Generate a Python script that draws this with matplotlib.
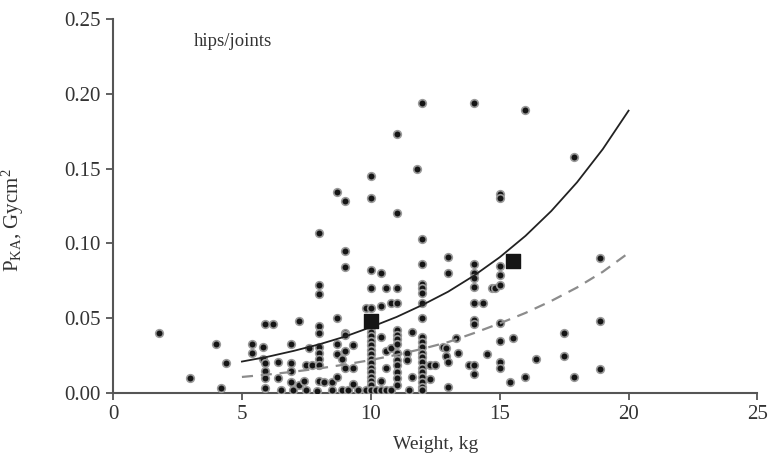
import matplotlib
matplotlib.use("Agg")
import matplotlib.pyplot as plt
import numpy as np

plt.rcParams['font.family'] = ['Liberation Serif', 'DejaVu Serif']
plt.rcParams['mathtext.fontset'] = 'custom'
plt.rcParams['mathtext.rm'] = 'Liberation Serif'
plt.rcParams['mathtext.it'] = 'Liberation Serif:italic'

# patient weight (kg) and PKA (Gy cm2)
weight = [
    1.8, 3.0, 4.0, 4.2, 4.4,
    5.4, 5.4, 5.8, 5.8, 5.9, 5.9, 5.9, 5.9, 5.9,
    6.2, 6.4, 6.4, 6.5, 6.9, 6.9, 6.9, 6.9, 7.0,
    7.2, 7.2, 7.4, 7.5, 7.5, 7.6, 7.7, 7.9,
    8.0, 8.0, 8.0, 8.0, 8.0, 8.0, 8.0, 8.0, 8.0, 8.0,
    8.2, 8.5, 8.5, 8.7, 8.7, 8.7, 8.7, 8.7, 8.9, 8.9,
    9.0, 9.0, 9.0, 9.0, 9.0, 9.0, 9.0, 9.1, 9.3, 9.3, 9.3, 9.5, 9.8, 9.8,
    10.0, 10.0, 10.0, 10.0, 10.0, 10.0, 10.0, 10.0, 10.0, 10.0, 10.0, 10.0,
    10.0, 10.0, 10.0, 10.0, 10.0, 10.0, 10.0, 10.0,
    10.2, 10.4, 10.4, 10.4, 10.4, 10.4, 10.6, 10.6, 10.6, 10.6,
    10.8, 10.8, 10.8,
    11.0, 11.0, 11.0, 11.0, 11.0, 11.0, 11.0, 11.0, 11.0, 11.0, 11.0, 11.0, 11.0, 11.0,
    11.4, 11.4, 11.5, 11.6, 11.6, 11.8,
    12.0, 12.0, 12.0, 12.0, 12.0, 12.0, 12.0, 12.0, 12.0, 12.0,
    12.0, 12.0, 12.0, 12.0, 12.0, 12.0, 12.0, 12.0, 12.0, 12.0,
    12.3, 12.3, 12.5, 12.8, 12.9, 12.9, 13.0, 13.0, 13.0, 13.0,
    13.3, 13.4, 13.8,
    14.0, 14.0, 14.0, 14.0, 14.0, 14.0, 14.0, 14.0, 14.0, 14.0,
    14.35, 14.5, 14.7, 14.8,
    15.0, 15.0, 15.0, 15.0, 15.0, 15.0, 15.0, 15.0, 15.0,
    15.4, 15.5, 16.0, 16.0, 16.4, 17.5, 17.5, 17.9, 17.9, 18.9, 18.9, 18.9,
]
pka = [
    0.040, 0.010, 0.033, 0.003, 0.020,
    0.033, 0.027, 0.031, 0.023, 0.046, 0.020, 0.015, 0.010, 0.003,
    0.046, 0.021, 0.010, 0.002, 0.033, 0.020, 0.015, 0.007, 0.002,
    0.048, 0.005, 0.008, 0.019, 0.002, 0.030, 0.019, 0.001,
    0.107, 0.072, 0.066, 0.045, 0.040, 0.031, 0.027, 0.023, 0.019, 0.008,
    0.007, 0.002, 0.007, 0.134, 0.050, 0.033, 0.026, 0.011, 0.023, 0.002,
    0.128, 0.095, 0.084, 0.040, 0.028, 0.017, 0.039, 0.002, 0.032, 0.017, 0.006, 0.002, 0.057, 0.002,
    0.145, 0.130, 0.082, 0.070, 0.057, 0.044, 0.041, 0.038, 0.035, 0.032, 0.029, 0.026,
    0.023, 0.020, 0.017, 0.014, 0.011, 0.008, 0.005, 0.002,
    0.002, 0.080, 0.058, 0.0375, 0.008, 0.002, 0.070, 0.028, 0.017, 0.002,
    0.060, 0.030, 0.002,
    0.173, 0.120, 0.070, 0.060, 0.042, 0.039, 0.036, 0.033, 0.027, 0.022, 0.019, 0.014, 0.010, 0.005,
    0.027, 0.022, 0.002, 0.041, 0.011, 0.150,
    0.194, 0.103, 0.086, 0.073, 0.070, 0.067, 0.060, 0.050, 0.0375, 0.034,
    0.031, 0.027, 0.024, 0.021, 0.017, 0.014, 0.011, 0.007, 0.004, 0.002,
    0.019, 0.009, 0.019, 0.031, 0.030, 0.025, 0.091, 0.080, 0.021, 0.004,
    0.037, 0.027, 0.019,
    0.194, 0.086, 0.080, 0.077, 0.071, 0.060, 0.049, 0.046, 0.019, 0.013,
    0.060, 0.026, 0.070, 0.070,
    0.133, 0.130, 0.085, 0.079, 0.072, 0.047, 0.035, 0.021, 0.017,
    0.007, 0.037, 0.189, 0.011, 0.023, 0.040, 0.025, 0.158, 0.011, 0.090, 0.048, 0.016,
]

# mean values (black squares)
mean_weight = [10.0, 15.5]
mean_pka = [0.048, 0.088]

# trend curves read at whole kg
curve_w = [5, 6, 7, 8, 9, 10, 11, 12, 13, 14, 15, 16, 17, 18, 19, 20]
upper_pka = [0.0210, 0.0242, 0.0281, 0.0325, 0.0377, 0.0440, 0.0508, 0.0588,
             0.0677, 0.0784, 0.0907, 0.1050, 0.1216, 0.1408, 0.1630, 0.1887]
lower_pka = [0.0107, 0.0123, 0.0142, 0.0164, 0.0190, 0.0220, 0.0255, 0.0295,
             0.0340, 0.0400, 0.0465, 0.0535, 0.0615, 0.0705, 0.0810, 0.0936]

fig = plt.figure(figsize=(7.69, 4.58), dpi=100)
ax = fig.add_axes([0.147, 0.142, 0.838, 0.8166])

ax.scatter(weight, pka, s=30, facecolor='#151515', edgecolor='#9a9a9a',
           linewidth=1.2, zorder=3)
ax.plot(curve_w, upper_pka, color='#222222', lw=1.3, zorder=4)
ax.plot(curve_w, lower_pka, color='#8c8c8c', lw=1.6, ls=(0, (5, 3.5)), zorder=4)
ax.scatter(mean_weight, mean_pka, s=110, marker='s', color='#151515', zorder=5)

ax.set_xlim(0, 25)
ax.set_ylim(0, 0.25)
ax.set_xticks([0, 5, 10, 15, 20, 25])
ax.set_yticks(np.arange(0, 0.26, 0.05))
ax.yaxis.set_major_formatter(matplotlib.ticker.FormatStrFormatter('%.2f'))

for s in ['top', 'right']:
    ax.spines[s].set_visible(False)
for s in ['left', 'bottom']:
    ax.spines[s].set_color('#555555')
    ax.spines[s].set_linewidth(1.5)
ax.tick_params(direction='out', length=5, width=1.3, color='#555555',
               labelsize=15, labelcolor='#333333', pad=4)

ax.set_xlabel('Weight, kg', fontsize=14, color='#333333', labelpad=8)
ax.set_ylabel(r'P$_{\mathrm{KA}}$, Gycm$^{2}$', fontsize=15, color='#333333')
ax.yaxis.set_label_coords(-0.135, 0.463)
ax.text(3.15, 0.2346, 'hips/joints', fontsize=13.5, color='#333333', va='center')

fig.savefig('out.png', dpi=100)
